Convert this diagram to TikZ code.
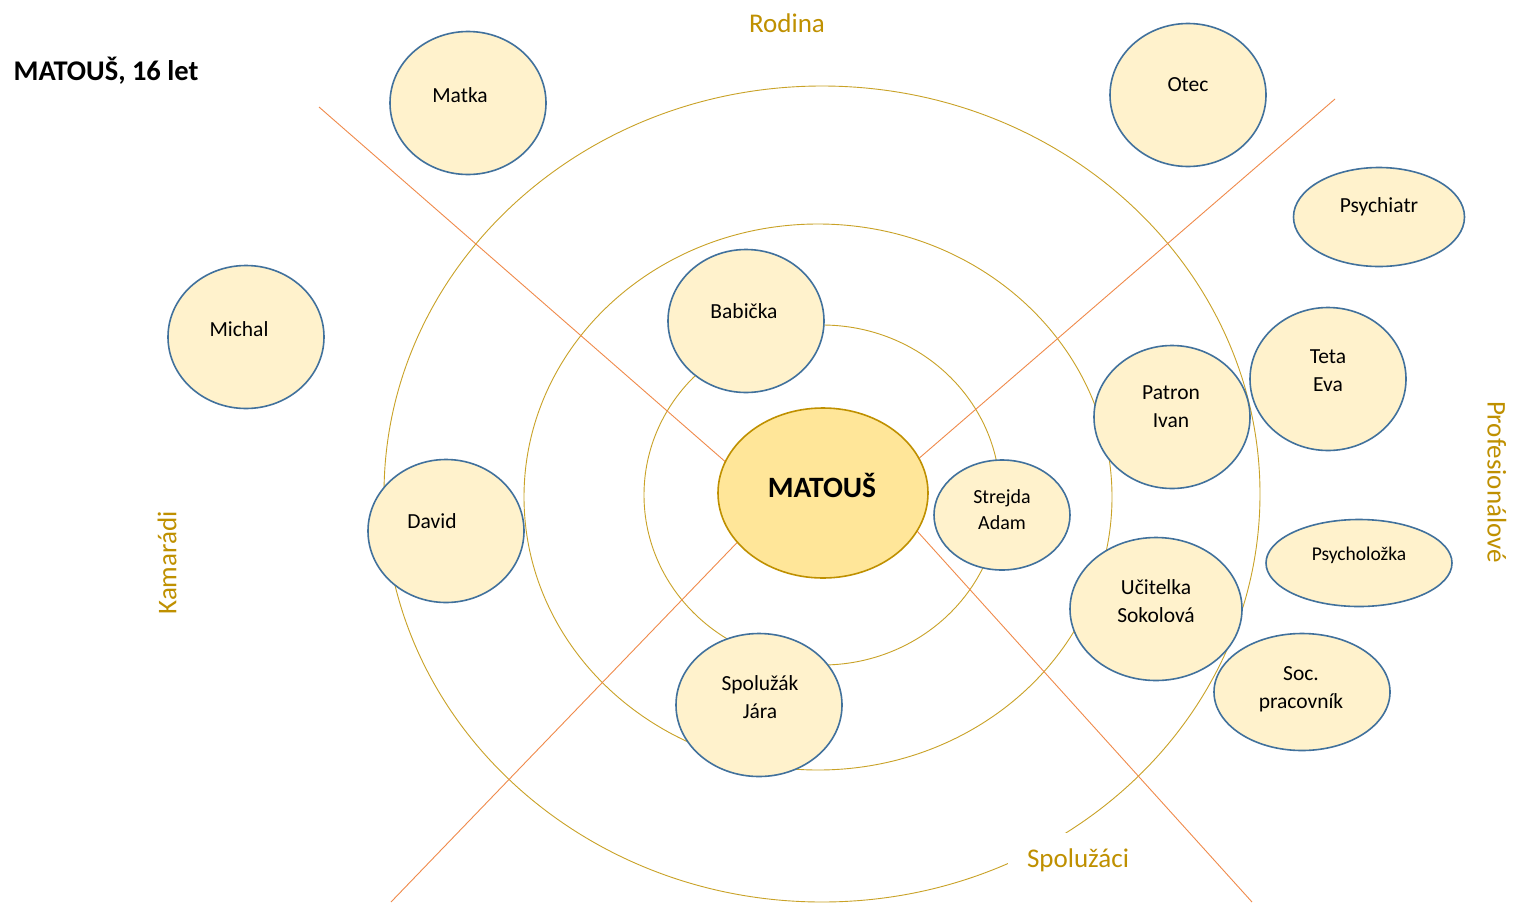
\documentclass[tikz,border=0pt]{standalone}
\usepackage{fontspec}
\setmainfont{Carlito}
\usetikzlibrary{shapes.geometric}
\definecolor{nodefill}{HTML}{FFF2CC}
\definecolor{nodeline}{HTML}{41719C}
\definecolor{egofill}{HTML}{FFE699}
\definecolor{egoline}{HTML}{BF9000}
\definecolor{ring}{HTML}{C9A227}
\definecolor{divider}{HTML}{F08A4B}
\definecolor{sector}{HTML}{BF9000}
\tikzset{
  person/.style={ellipse, draw=nodeline, fill=nodefill, line width=1.6pt, inner sep=0pt},
  ego/.style={ellipse, draw=egoline, fill=egofill, line width=1.6pt, inner sep=0pt},
  ptext/.style={font=\fontsize{21.5}{28}\selectfont, align=center, inner sep=0pt},
  ringline/.style={draw=ring, line width=0.9pt},
  divline/.style={draw=divider, line width=0.9pt},
  sectortext/.style={font=\fontsize{27}{30}\selectfont, text=sector, inner sep=0pt},
}
\begin{document}
\begin{tikzpicture}[x=1pt, y=-1pt]
\useasboundingbox (0,0) rectangle (1518,916);
\fill[white] (0,0) rectangle (1518,916);

% rings
\draw[ringline] (822,495) ellipse [x radius=178, y radius=170];
\draw[ringline] (818,497) ellipse [x radius=294, y radius=273];
\draw[ringline] (822,494) ellipse [x radius=438, y radius=408];

% sector dividers
\coordinate (d1a) at (319,107);  \coordinate (d1b) at (760,492);
\coordinate (d2a) at (1335,99);  \coordinate (d2b) at (880,492);
\coordinate (d3a) at (391,902);  \coordinate (d3b) at (780,498);
\coordinate (d4a) at (1252,902); \coordinate (d4b) at (880,490);
\draw[divline] (d1a) -- (d1b);
\draw[divline] (d2a) -- (d2b);
\draw[divline] (d3a) -- (d3b);
\draw[divline] (d4a) -- (d4b);

% sector labels
\node[sectortext] (rodina) at (787,23) {Rodina};
\node[sectortext, rotate=90] (kamaradi) at (167,563) {Kamarádi};
\node[sectortext, rotate=-90] (prof) at (1497,482) {Profesionálové};
\node[sectortext, fill=white, minimum width=140pt, minimum height=54pt] (spoluzaci) at (1078,860) {};
\node[sectortext] (spoluzacit) at (1078,860) {Spolužáci};

% title
\node[font=\fontsize{28.5}{32}\selectfont\bfseries, inner sep=0pt] (title) at (106,71) {MATOUŠ, 16 let};

% people
\node[person, minimum width=156pt, minimum height=143pt] (matka) at (468,103) {};
\node[ptext] (matkat) at (460,95) {Matka};
\node[person, minimum width=156pt, minimum height=143pt] (otec) at (1188,95) {};
\node[ptext] (otect) at (1188,85) {Otec};
\node[person, minimum width=171pt, minimum height=99pt] (psychiatr) at (1379,217) {};
\node[ptext] (psychiatrt) at (1379,207) {Psychiatr};
\node[person, minimum width=156pt, minimum height=143pt] (michal) at (246,337) {};
\node[ptext] (michalt) at (239,329) {Michal};
\node[person, minimum width=156pt, minimum height=143pt] (babicka) at (746,321) {};
\node[ptext] (babickat) at (744,311) {Babička};
\node[person, minimum width=156pt, minimum height=143pt] (teta) at (1328,379) {};
\node[ptext] (tetat) at (1328,371) {Teta\\Eva};
\node[person, minimum width=156pt, minimum height=143pt] (patron) at (1172,417) {};
\node[ptext] (patront) at (1171,407) {Patron\\Ivan};
\node[person, minimum width=136pt, minimum height=110pt] (strejda) at (1002,515) {};
\node[ptext, font=\fontsize{20}{26}\selectfont] (strejdat) at (1002,510) {Strejda\\Adam};
\node[person, minimum width=186pt, minimum height=87pt] (psycholozka) at (1359,563) {};
\node[ptext, font=\fontsize{19.5}{26}\selectfont] (psycholozkat) at (1359,555) {Psycholožka};
\node[person, minimum width=156pt, minimum height=143pt] (david) at (446,531) {};
\node[ptext] (davidt) at (432,521) {David};
\node[person, minimum width=172pt, minimum height=143pt] (ucitelka) at (1156,609) {};
\node[ptext] (ucitelkat) at (1156,601) {Učitelka\\Sokolová};
\node[person, minimum width=176pt, minimum height=117pt] (soc) at (1302,692) {};
\node[ptext] (soct) at (1301,689) {Soc.\\pracovník};
\node[person, minimum width=166pt, minimum height=143pt] (jara) at (759,705) {};
\node[ptext] (jarat) at (760,697) {Spolužák\\Jára};

% ego
\node[ego, minimum width=210pt, minimum height=170pt] (matous) at (823,493) {};
\node[font=\fontsize{29.5}{32}\selectfont\bfseries, inner sep=0pt] (matoust) at (822,485) {MATOUŠ};
\end{tikzpicture}
\end{document}
